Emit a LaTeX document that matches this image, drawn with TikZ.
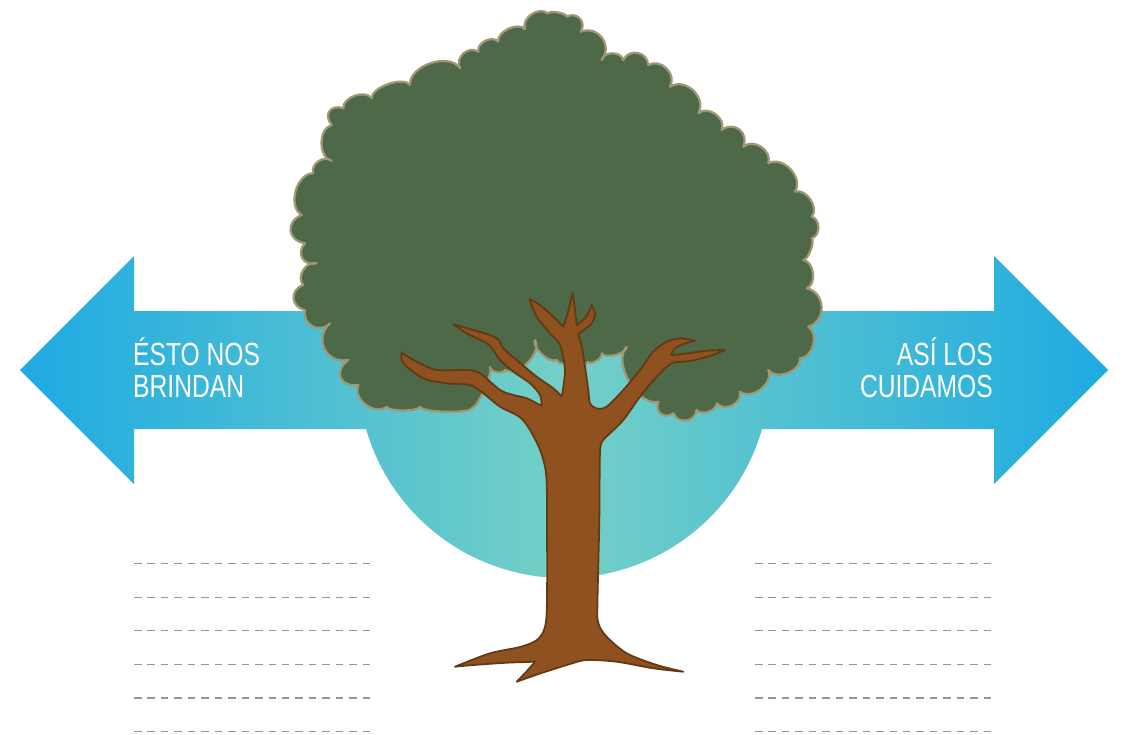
\documentclass[tikz,border=0pt]{standalone}
\usepackage{fontspec}
\newfontfamily\bandfont{Liberation Sans}[FakeStretch=0.77]
\definecolor{tipblue}{RGB}{30,170,226}
\definecolor{coreteal}{RGB}{117,208,198}
\definecolor{leafgreen}{RGB}{78,105,71}
\definecolor{leafrim}{RGB}{160,151,116}
\definecolor{barkfill}{RGB}{144,81,33}
\definecolor{barkrim}{RGB}{100,58,18}
\definecolor{rulegray}{RGB}{148,148,148}
% blue at both ends of the band, teal in the middle
\pgfdeclarehorizontalshading{bandshade}{100bp}{color(0bp)=(tipblue); color(25bp)=(tipblue); color(50bp)=(coreteal); color(75bp)=(tipblue); color(100bp)=(tipblue)}

\begin{document}
\begin{tikzpicture}[x=1pt,y=-1pt,
  sc/.style={bend left=75,looseness=#1}, sc/.default=1,
  crown/.style={fill=leafgreen,draw=leafrim,line width=2.2pt,line join=round},
  bark/.style={fill=barkfill,draw=barkrim,line width=1.8pt,line join=round},
  rule/.style={draw=rulegray,line width=1.5pt,dash pattern=on 7.5pt off 5.95pt},
  lbl/.style={text=white,inner sep=0pt,font=\bandfont\fontsize{32}{32}\selectfont}]

\path[use as bounding box,fill=white] (0,0) rectangle (1123,735);

% double arrow band with the half disc below the tree
\shade[shading=bandshade] (20,370) -- (134,256) -- (134,311) -- (994,311) -- (994,256)
  -- (1108,370) -- (994,484) -- (994,429) -- (762,429)
  arc[start angle=16.06,end angle=163.94,radius=206]
  -- (134,429) -- (134,484) -- cycle;

% crown: scalloped outline, clockwise
\draw[crown] (420,406.7)
  to[sc=0.4] (386.7,406.7) to[sc=1.1] (358.3,385) to[sc=1.8] (348.3,360)
  to[sc=1.4] (330,323.3) to[sc=1.35] (305,310) to[sc=1.5] (303.3,285)
  to[sc=1.1] (316.7,263.3) to[sc=1.5] (305,243.3) to[sc=1.6] (301.7,215)
  to[sc=1.0] (313.3,173.3) to[sc=1.15] (331.7,161) to[sc=1.0] (331.7,125)
  to[sc=1.7] (343.3,108.3) to[sc=0.95] (371.7,98.3) to[sc=0.7] (410,85)
  to[sc=0.95] (460,68.3) to[sc=1.25] (478.3,51.7) to[sc=1.05] (498.3,41.7)
  to[sc=0.9] (525,29.3) to[sc=1.1] (548,13.5) to[sc=0.5] (566.7,16.7)
  to[sc=1.45] (580.7,31.7) to[sc=1.35] (601.7,60) to[sc=1.1] (623.3,60)
  to[sc=1.35] (648.3,65) to[sc=1.2] (670,86.7) to[sc=1.2] (698.3,113.3)
  to[sc=1.15] (721.7,130) to[sc=1.45] (743.3,146.7) to[sc=1.15] (768.3,163.3)
  to[sc=1.1] (795,191.7) to[sc=1.0] (811.7,216.7) to[sc=1.1] (811.7,238.3)
  to[sc=0.5] (803.3,260) to[sc=1.0] (806.7,288.3) to[sc=1.3] (808.3,326.7)
  to[sc=1.0] (800,358.3) to[sc=1.0] (768.3,370) to[sc=1.05] (740,391.7)
  to[sc=1.2] (716.7,403.3) to[sc=0.9] (696.7,410) to[sc=1.35] (673.3,413.3)
  to[sc=1.5] (658.3,401.7) to[sc=0.85] (626.7,346.7) to[sc=0.7] (601.7,353.3)
  to[sc=0.8] (588,362) to[sc=0.5] (556.7,360) to[sc=0.7] (535,340)
  to[sc=0.9] (505,370) to[sc=0.9] (490,367) to[sc=0.3] (472,408)
  to[sc=0.3] cycle;

% trunk, roots and branches
\draw[bark]
  plot[smooth,tension=.5] coordinates {(455,666.7) (490,653.3) (520,647) (537,640) (545,627)
     (547,600) (547,520) (546,473) (538,445) (522,419) (500,406.7) (483.3,393.3) (470,385)
     (446.7,383.3) (423.3,378.3) (403.3,363.3) (401.7,352.7)}
  -- plot[smooth,tension=.5] coordinates {(401.7,352.7) (416.7,361.7) (436.7,370) (466.7,370)
     (480,373.3) (500,390) (513.3,395) (526.7,398.3) (541.7,406)}
  -- plot[smooth,tension=.5] coordinates {(541.7,406) (540,395) (530,383.3) (513.3,371.7)
     (500,360) (493.3,350) (486.7,343.3) (466.7,333.3) (453.3,324.3)}
  -- plot[smooth,tension=.5] coordinates {(453.3,324.3) (473.3,330) (490,335) (498.3,339.3)
     (503.3,348.3) (516.7,360) (536.7,376.7) (553.3,388.3) (561.7,396.7)}
  -- plot[smooth,tension=.5] coordinates {(561.7,396.7) (565,370) (560,345) (550,333.3)
     (536.7,316.7) (529.3,299)}
  -- plot[smooth,tension=.5] coordinates {(529.3,299) (540,305) (553.3,316.7) (563.3,326.7)}
  -- plot[smooth,tension=.5] coordinates {(563.3,326.7) (568,312) (572.7,292.7)}
  -- plot[smooth,tension=.5] coordinates {(572.7,292.7) (575,310) (576.7,325)}
  -- plot[smooth,tension=.5] coordinates {(576.7,325) (586,317) (591.7,305)}
  -- plot[smooth,tension=.5] coordinates {(591.7,305) (595,314) (591,324) (578.3,334)}
  -- plot[smooth,tension=.5] coordinates {(578.3,334) (581.7,346.7) (585,366.7) (588.3,390)
     (590,403.3) (597,408.5) (606.7,406.7) (623.3,390) (640,370) (653.3,351.7)
     (666.7,341.7) (680,338.3) (695,340.7)}
  -- plot[smooth,tension=.5] coordinates {(695,340.7) (683.3,344) (675,348.3) (671,355)}
  -- plot[smooth,tension=.5] coordinates {(671,355) (683.3,354) (706.7,350.7) (725,350)}
  -- plot[smooth,tension=.5] coordinates {(725,350) (710,356) (690,361) (671.7,363.3)
     (656.7,376.7) (640,396.7) (623.3,420) (610,433.3) (603.3,440) (600,452) (599.3,520)
     (597.5,600) (598,622) (606,636) (626.7,653.3) (656.7,665) (683.3,671.7)}
  -- plot[smooth,tension=.5] coordinates {(683.3,671.7) (653.3,668.3) (616.7,661.7)
     (586.7,660) (570,664) (540,673.5) (516.7,681.7)}
  -- plot[smooth,tension=.5] coordinates {(516.7,681.7) (527,671) (535,661.7)}
  -- plot[smooth,tension=.5] coordinates {(535,661.7) (506.7,662.7) (473.3,665) (455,666.7)}
  -- cycle;

% writing lines
\foreach \y in {563.3,597.3,630.7,664.5,698,731.7}{
  \draw[rule] (134,\y) -- (370,\y);
  \draw[rule] (755,\y) -- (992,\y);
}

% arrow labels
\node[lbl,anchor=base west] (leftA) at (133,365) {ÉSTO NOS};
\node[lbl,anchor=base west] (leftB) at (133,397) {BRINDAN};
\node[lbl,anchor=base east] (rightA) at (993,365) {ASÍ LOS};
\node[lbl,anchor=base east] (rightB) at (993,397) {CUIDAMOS};
\end{tikzpicture}
\end{document}
